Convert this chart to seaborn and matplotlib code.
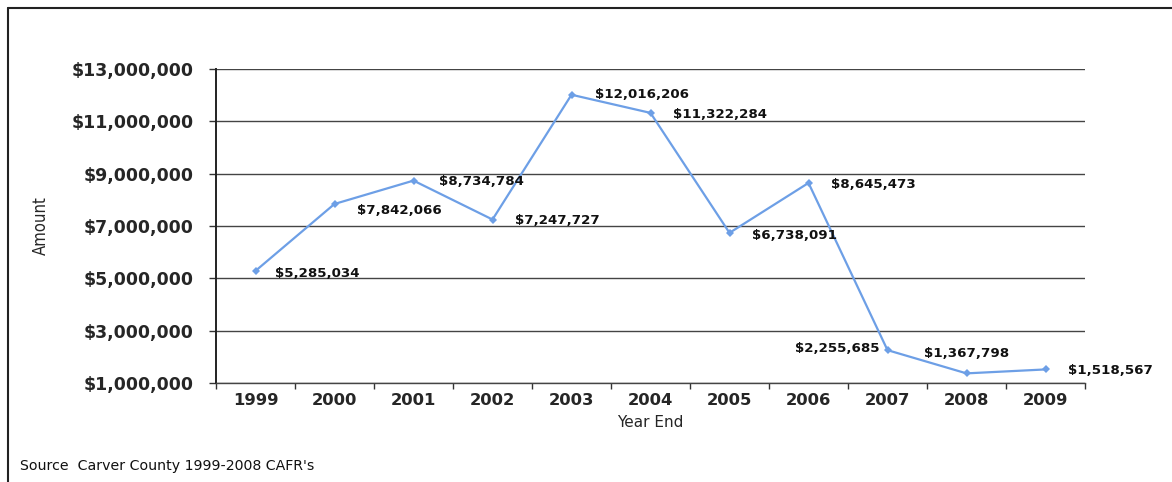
import matplotlib
matplotlib.use("Agg")
import matplotlib.pyplot as plt
import seaborn as sns
import pandas as pd
from matplotlib.lines import Line2D

years = ["1999", "2000", "2001", "2002", "2003", "2004", "2005", "2006", "2007", "2008", "2009"]
amounts = [5285034, 7842066, 8734784, 7247727, 12016206, 11322284, 6738091, 8645473, 2255685, 1367798, 1518567]
y_ticks = [1000000, 3000000, 5000000, 7000000, 9000000, 11000000, 13000000]

df = pd.DataFrame({"Year": years, "Amount": amounts})
df["pos"] = range(len(years))

sns.set_style("white")
plt.rcParams['font.family'] = ['DejaVu Sans']

fig = plt.figure(figsize=(11.72, 4.82), dpi=100)
ax = fig.add_axes([216/1172, 1-383/482, (1085-216)/1172, (383-69)/482])

sns.lineplot(data=df, x="pos", y="Amount", ax=ax, color="#6d9fe6", linewidth=1.6,
             marker="D", markersize=4, markeredgewidth=0, zorder=3)

ax.set_xlim(-0.5, len(years)-0.5)
ax.set_ylim(1000000, 13000000)
ax.set_yticks(y_ticks)
ax.set_yticklabels([f"${v:,.0f}" for v in y_ticks], fontsize=12.5, fontweight="bold")
ax.set_xticks(range(len(years)))
ax.set_xticklabels(years, fontsize=11.8, fontweight="bold")
ax.set_xticks([i - 0.5 for i in range(len(years)+1)], minor=True)
ax.tick_params(axis="x", which="major", bottom=False, length=0, pad=7)
ax.tick_params(axis="x", which="minor", bottom=True, length=4, width=1, color="#333333", direction="out")
ax.tick_params(axis="y", left=True, length=5, width=1, color="#333333", pad=11)

ax.grid(axis="y", color="#444444", linewidth=1.0)
ax.set_axisbelow(True)
for s in ["top", "right"]:
    ax.spines[s].set_visible(False)
ax.spines["left"].set_color("#222222")
ax.spines["left"].set_linewidth(1.4)
ax.spines["bottom"].set_color("#444444")
ax.spines["bottom"].set_linewidth(1.0)

ax.set_xlabel("Year End", fontsize=11, labelpad=5)
ax.set_ylabel("Amount", fontsize=12, labelpad=16, fontstretch="condensed")

# data labels: (dx points, dy points, ha)
offsets = [(14, -2, "left"), (16, -5, "left"), (18, -1, "left"), (16, -1, "left"),
           (17, 0, "left"), (16, -1, "left"), (16, -2, "left"), (16, -1, "left"),
           (-6, 1, "right"), (0, 14, "center"), (16, -1, "left")]
for i, (v, (dx, dy, ha)) in enumerate(zip(amounts, offsets)):
    ax.annotate(f"${v:,.0f}", (i, v), xytext=(dx, dy), textcoords="offset points",
                ha=ha, va="center", fontsize=9.6, fontweight="bold", color="#111111")

# outer frame (left and top edges)
fig.add_artist(Line2D([8/1172, 8/1172], [0, 1-8/482], color="#222222", linewidth=1.5))
fig.add_artist(Line2D([8/1172, 1], [1-8/482, 1-8/482], color="#222222", linewidth=1.5))

fig.text(20/1172, 1-466/482, "Source  Carver County 1999-2008 CAFR's", fontsize=10.2,
         va="center", ha="left", color="#111111")

fig.savefig("out.png", dpi=100)
